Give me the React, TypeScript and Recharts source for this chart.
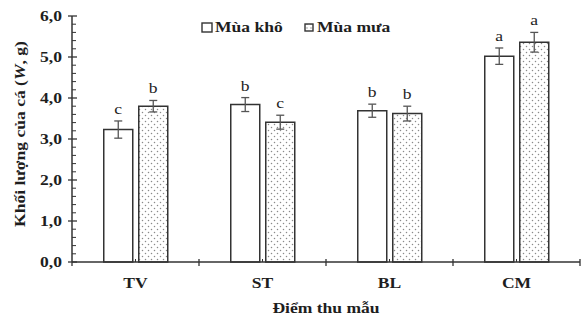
import { BarChart, Bar, XAxis, YAxis, ErrorBar, LabelList, Legend, Label } from "recharts"

// Khối lượng cá theo điểm thu mẫu, mùa khô / mùa mưa
const sites = ["TV", "ST", "BL", "CM"]
const dryMean = [3.23, 3.84, 3.69, 5.02]
const drySe = [0.21, 0.17, 0.16, 0.2]
const dryLetters = ["c", "b", "b", "a"]
const wetMean = [3.8, 3.41, 3.62, 5.36]
const wetSe = [0.14, 0.17, 0.18, 0.24]
const wetLetters = ["b", "c", "b", "a"]
const yMajor = [0, 1, 2, 3, 4, 5, 6]
const minorPerMajor = 5

const data = sites.map((site, i) => ({
  site,
  dry: dryMean[i],
  dryErr: drySe[i],
  wet: wetMean[i],
  wetErr: wetSe[i],
}))

const yTicks: number[] = []
yMajor.forEach((v, i) => {
  yTicks.push(v)
  if (i < yMajor.length - 1) {
    for (let k = 1; k < minorPerMajor; k++) yTicks.push(Math.round((v + k / minorPerMajor) * 10) / 10)
  }
})

const W = 587
const H = 320
const margin = { top: 16, right: 7, bottom: 0, left: 22 }
const Y_WIDTH = 50
const X_HEIGHT = 58
const band = (W - margin.left - margin.right - Y_WIDTH) / sites.length

const FONT = "'Liberation Serif', 'Times New Roman', serif"
const SX = 1.17
const INK = "#1e1e1e"
const AXIS = "#333"

const fmt = (v: number) => v.toFixed(1).replace(".", ",")

const YTick = (props: any) => {
  const { x, y, payload } = props
  const v = payload.value
  const major = Math.abs(v - Math.round(v)) < 1e-6
  return (
    <g>
      {major ? (
        <line x1={x - 4} x2={x + 5} y1={y} y2={y} stroke={AXIS} strokeWidth={1.3} />
      ) : (
        <line x1={x} x2={x + 4} y1={y} y2={y} stroke={AXIS} strokeWidth={1} />
      )}
      {major && (
        <text
          transform={`translate(${x - 10} ${y + 5}) scale(${SX} 1)`}
          textAnchor="end"
          fontFamily={FONT}
          fontWeight="bold"
          fontSize={15}
          fill={INK}
        >
          {fmt(v)}
        </text>
      )}
    </g>
  )
}

const XTick = (props: any) => {
  const { x, y, payload, index } = props
  return (
    <g>
      {index === 0 && <line x1={x - band / 2} x2={x - band / 2} y1={y} y2={y + 4} stroke={AXIS} strokeWidth={1.3} />}
      <line x1={x + band / 2} x2={x + band / 2} y1={y - 3} y2={y + 4} stroke={AXIS} strokeWidth={1.3} />
      <line x1={x} x2={x} y1={y - 3} y2={y} stroke={AXIS} strokeWidth={1} />
      <text
        transform={`translate(${x} ${y + 26}) scale(${SX} 1)`}
        textAnchor="middle"
        fontFamily={FONT}
        fontWeight="bold"
        fontSize={15}
        fill={INK}
      >
        {payload.value}
      </text>
    </g>
  )
}

const letterLabel = (letters: string[], errs: number[]) => (props: any) => {
  const { x, y, width, height, value, index } = props
  const perUnit = height / value
  const top = y - errs[index] * perUnit
  return (
    <text
      transform={`translate(${x + width / 2} ${top - 7}) scale(${SX} 1)`}
      textAnchor="middle"
      fontFamily={FONT}
      fontSize={15}
      fill={INK}
    >
      {letters[index]}
    </text>
  )
}

const LegendBox = () => (
  <svg width={200} height={24}>
    <rect x={1} y={9} width={10} height={9} fill="#fff" stroke={AXIS} strokeWidth={1.4} />
    <text transform={`translate(14 18) scale(${SX} 1)`} fontFamily={FONT} fontWeight="bold" fontSize={15} fill={INK}>
      Mùa khô
    </text>
    <rect x={104} y={10} width={8} height={7} fill="url(#dotsLegend)" stroke={AXIS} strokeWidth={1.4} />
    <defs>
      <pattern id="dotsLegend" width={4} height={4} patternUnits="userSpaceOnUse">
        <rect width={4} height={4} fill="#fff" />
        <circle cx={2} cy={2} r={0.7} fill="#888" />
      </pattern>
    </defs>
    <text transform={`translate(116 18) scale(${SX} 1)`} fontFamily={FONT} fontWeight="bold" fontSize={15} fill={INK}>
      Mùa mưa
    </text>
  </svg>
)

export default function App() {
  return (
    <div style={{ position: "absolute", left: 0, top: 0, width: W, height: H, background: "#fff" }}>
      <BarChart width={W} height={H} data={data} margin={margin} barCategoryGap="25%" barGap={6}>
        <defs>
          <pattern id="dots" width={6} height={6} patternUnits="userSpaceOnUse">
            <rect width={6} height={6} fill="#fff" />
            <circle cx={1.5} cy={1.5} r={0.75} fill="#8a8a8a" />
            <circle cx={4.5} cy={4.5} r={0.75} fill="#8a8a8a" />
          </pattern>
        </defs>
        <XAxis
          dataKey="site"
          height={X_HEIGHT}
          tickSize={0}
          tickMargin={0}
          tickLine={false}
          tick={<XTick />}
          interval={0}
          axisLine={{ stroke: AXIS, strokeWidth: 1.5 }}
        >
          <Label
            content={(p: any) => {
              const vb = p.viewBox
              return (
                <text
                  transform={`translate(${vb.x + vb.width / 2} ${vb.y + 51}) scale(${SX} 1)`}
                  textAnchor="middle"
                  fontFamily={FONT}
                  fontWeight="bold"
                  fontSize={15}
                  fill={INK}
                >
                  Điểm thu mẫu
                </text>
              )
            }}
          />
        </XAxis>
        <YAxis
          width={Y_WIDTH}
          domain={[0, 6]}
          ticks={yTicks}
          interval={0}
          tickSize={0}
          tickMargin={0}
          tickLine={false}
          tick={<YTick />}
          axisLine={{ stroke: AXIS, strokeWidth: 1.5 }}
        >
          <Label
            content={(p: any) => {
              const vb = p.viewBox
              return (
                <text
                  transform={`translate(${vb.x + 3} ${vb.y + vb.height / 2 - 5}) rotate(-90) scale(${SX} 1)`}
                  textAnchor="middle"
                  fontFamily={FONT}
                  fontWeight="bold"
                  fontSize={15}
                  fill={INK}
                >
                  Khối lượng của cá (<tspan fontStyle="italic">W</tspan>, g)
                </text>
              )
            }}
          />
        </YAxis>
        <Legend
          layout="vertical"
          align="center"
          verticalAlign="middle"
          wrapperStyle={{ top: 14, left: 201, width: 200 }}
          content={() => <LegendBox />}
        />
        <Bar dataKey="dry" name="Mùa khô" fill="#fff" stroke={AXIS} strokeWidth={1.5} isAnimationActive={false}>
          <ErrorBar dataKey="dryErr" width={4} stroke="#555" strokeWidth={1.3} />
          <LabelList dataKey="dry" content={letterLabel(dryLetters, drySe)} />
        </Bar>
        <Bar dataKey="wet" name="Mùa mưa" fill="url(#dots)" stroke={AXIS} strokeWidth={1.5} isAnimationActive={false}>
          <ErrorBar dataKey="wetErr" width={4} stroke="#555" strokeWidth={1.3} />
          <LabelList dataKey="wet" content={letterLabel(wetLetters, wetSe)} />
        </Bar>
      </BarChart>
    </div>
  )
}
